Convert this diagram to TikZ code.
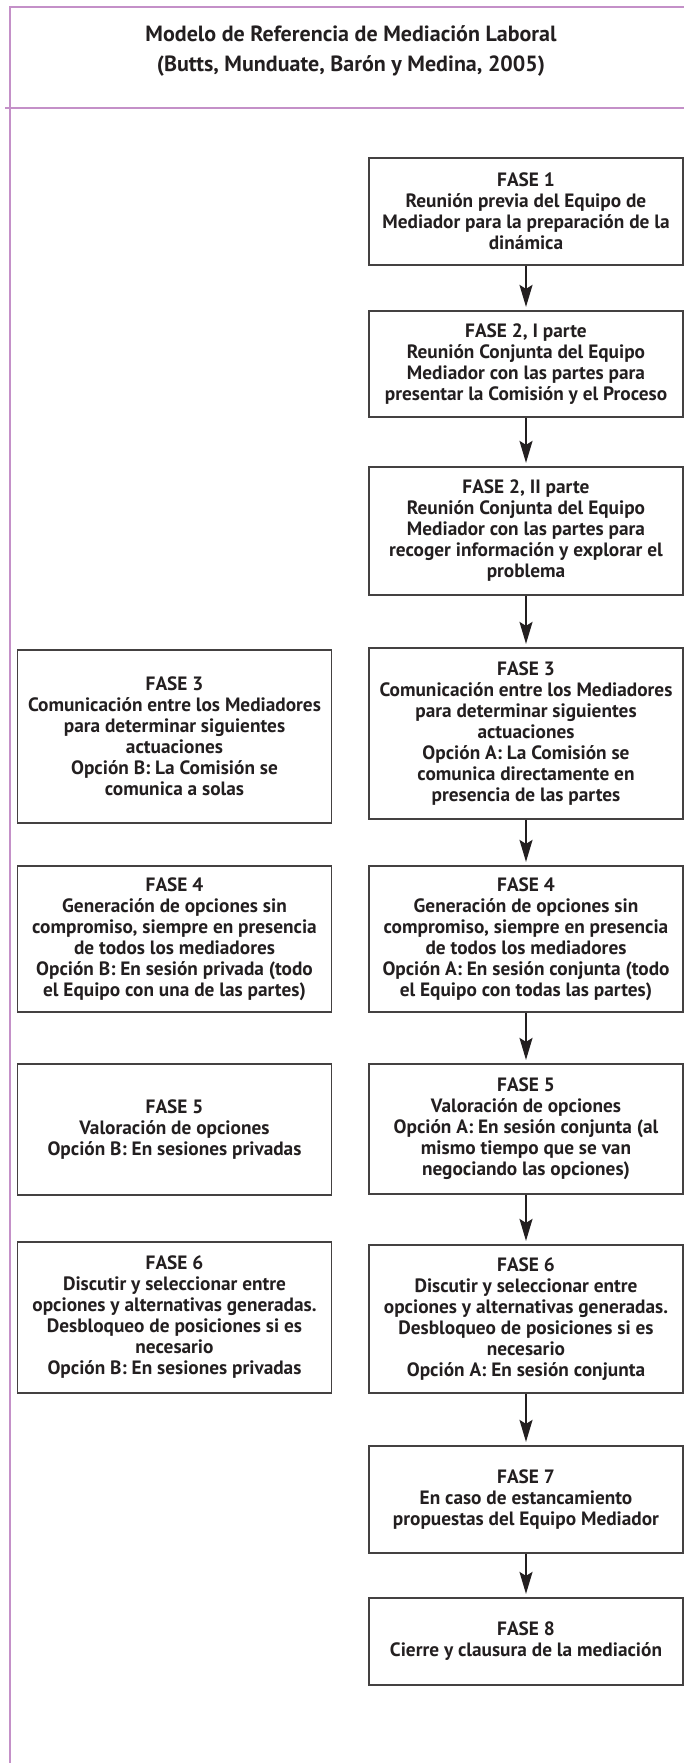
\documentclass[tikz,border=0pt]{standalone}
\usepackage{fontspec}
\setmainfont{PT Sans}
\usetikzlibrary{arrows.meta}
\definecolor{framec}{HTML}{C490C8}
\definecolor{ink}{HTML}{231F20}
\begin{document}
\begin{tikzpicture}[x=1pt,y=-1pt,
  phase/.style={draw=ink!85, line width=1.2pt, minimum width=314pt, inner sep=0pt,
    align=center, text=ink, font=\bfseries\fontsize{19.3}{21}\selectfont},
  flow/.style={-{Stealth[length=22pt,width=13pt,inset=4pt]}, line width=2pt, draw=ink, shorten >=3.5pt},
  titletext/.style={align=center, text=ink, font=\bfseries\fontsize{22}{30}\selectfont}]
\useasboundingbox (0,0) rectangle (684,1763);
\fill[white] (0,0) rectangle (684,1763);
\draw[framec, line width=2pt] (684,7.5) -- (9.5,7.5) -- (9.5,1763);
\draw[framec, line width=1.6pt] (5,108) -- (684,108);
\node[titletext] (title) at (351,51) {Modelo de Referencia de Mediación Laboral\\(Butts, Munduate, Barón y Medina, 2005)};

% right column
\node[phase, minimum height=107pt] (f1) at (526,211.5) {FASE 1\\Reunión previa del Equipo de\\Mediador para la preparación de la\\dinámica};
\node[phase, minimum height=106pt] (f2a) at (526,364) {FASE 2, I parte\\Reunión Conjunta del Equipo\\Mediador con las partes para\\presentar la Comisión y el Proceso};
\node[phase, minimum height=128pt] (f2b) at (526,531) {FASE 2, II parte\\Reunión Conjunta del Equipo\\Mediador con las partes para\\recoger información y explorar el\\problema};
\node[phase, minimum height=171pt] (f3a) at (526,733.5) {FASE 3\\Comunicación entre los Mediadores\\para determinar siguientes\\actuaciones\\Opción A: La Comisión se\\comunica directamente en\\presencia de las partes};
\node[phase, minimum height=146pt] (f4a) at (526,939) {FASE 4\\Generación de opciones sin\\compromiso, siempre en presencia\\de todos los mediadores\\Opción A: En sesión conjunta (todo\\el Equipo con todas las partes)};
\node[phase, minimum height=130pt] (f5a) at (526,1129) {FASE 5\\Valoración de opciones\\Opción A: En sesión conjunta (al\\mismo tiempo que se van\\negociando las opciones)};
\node[phase, minimum height=148pt] (f6a) at (526,1319) {FASE 6\\Discutir y seleccionar entre\\opciones y alternativas generadas.\\Desbloqueo de posiciones si es\\necesario\\Opción A: En sesión conjunta};
\node[phase, minimum height=107pt] (f7) at (526,1499.5) {FASE 7\\En caso de estancamiento\\propuestas del Equipo Mediador};
\node[phase, minimum height=87pt] (f8) at (526,1641.5) {FASE 8\\Cierre y clausura de la mediación};

% left column
\node[phase, minimum height=173pt] (f3b) at (174.5,736.5) {FASE 3\\Comunicación entre los Mediadores\\para determinar siguientes\\actuaciones\\Opción B: La Comisión se\\comunica a solas};
\node[phase, minimum height=146pt] (f4b) at (174.5,939) {FASE 4\\Generación de opciones sin\\compromiso, siempre en presencia\\de todos los mediadores\\Opción B: En sesión privada (todo\\el Equipo con una de las partes)};
\node[phase, minimum height=131pt] (f5b) at (174.5,1129.5) {FASE 5\\Valoración de opciones\\Opción B: En sesiones privadas};
\node[phase, minimum height=151pt] (f6b) at (174.5,1317.5) {FASE 6\\Discutir y seleccionar entre\\opciones y alternativas generadas.\\Desbloqueo de posiciones si es\\necesario\\Opción B: En sesiones privadas};

\draw[flow] (f1) -- (f2a);
\draw[flow] (f2a) -- (f2b);
\draw[flow] (f2b) -- (f3a);
\draw[flow] (f3a) -- (f4a);
\draw[flow] (f4a) -- (f5a);
\draw[flow] (f5a) -- (f6a);
\draw[flow] (f6a) -- (f7);
\draw[flow] (f7) -- (f8);
\end{tikzpicture}
\end{document}
